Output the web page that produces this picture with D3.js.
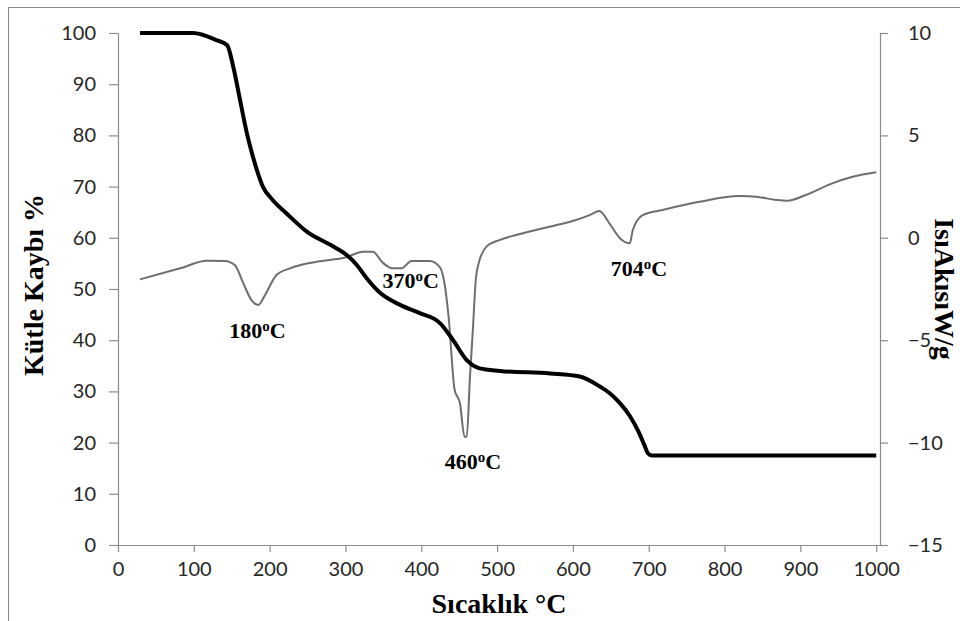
<!DOCTYPE html>
<html>
<head>
<meta charset="utf-8">
<script src="https://cdn.jsdelivr.net/npm/d3@7"></script>
<style>
  html, body { margin: 0; padding: 0; background: #fff; }
  svg { display: block; }
</style>
</head>
<body>
<svg id="chart" width="960" height="621"></svg>
<script>
// Thermogravimetric (TGA) mass-loss curve, left axis
const tgaTemp = [29, 99, 130, 144, 152, 161, 170, 178, 191, 204, 222, 249, 284, 302, 315, 328, 346, 372, 398, 425, 442, 460, 477, 504, 570, 609, 636, 649, 662, 675, 686, 694, 699, 704, 1000];
const tgaMass = [100, 100, 98.6, 97.6, 93.4, 86.9, 80.4, 75.8, 70, 67.4, 64.8, 61.2, 58.3, 56.6, 54.7, 52.1, 49.2, 46.9, 45.3, 43.3, 40, 36.1, 34.5, 34.0, 33.5, 32.9, 30.9, 29.6, 27.7, 25.2, 22.3, 19.6, 17.9, 17.5, 17.5];

// Heat flow (DSC) curve, right axis
const dscTemp = [29, 82, 117, 141, 154, 165, 176, 185, 194, 209, 227, 262, 301, 323, 336, 349, 362, 374, 387, 411, 424, 431, 436, 444, 451, 457, 460, 464, 468, 472, 476, 486, 503, 525, 569, 604, 622, 635, 648, 662, 675, 679, 692, 718, 767, 820, 842, 868, 883, 907, 942, 969, 1000];
const dscFlow = [-2.03, -1.49, -1.12, -1.13, -1.33, -2.2, -3.04, -3.28, -2.79, -1.82, -1.49, -1.17, -0.95, -0.68, -0.68, -1.21, -1.49, -1.49, -1.13, -1.13, -1.41, -2.31, -3.85, -7.43, -8.08, -9.71, -9.71, -6.94, -4.5, -2.0, -1.2, -0.43, -0.11, 0.14, 0.54, 0.87, 1.11, 1.31, 0.71, -0.02, -0.27, 0.38, 1.11, 1.36, 1.76, 2.04, 2.0, 1.85, 1.81, 2.09, 2.66, 2.98, 3.2];

// Tick values
const xTicks = [0, 100, 200, 300, 400, 500, 600, 700, 800, 900, 1000];
const yLeftTicks = [0, 10, 20, 30, 40, 50, 60, 70, 80, 90, 100];
const yRightTicks = [-15, -10, -5, 0, 5, 10];

// Peak annotations: position (temperature, heat flow) and label number
const peakTemp = [184, 386, 468, 687];
const peakFlow = [-4.9, -2.45, -11.3, -1.85];
const peakText = ["180", "370", "460", "704"];

const svg = d3.select("#chart");
const plotL = 118, plotR = 880, plotT = 33, plotB = 545;

const x = d3.scaleLinear().domain([0, 1005]).range([plotL, plotR]);
const yL = d3.scaleLinear().domain([0, 100]).range([plotB, plotT]);
const yR = d3.scaleLinear().domain([-15, 10]).range([plotB, plotT]);

const axisColor = "#8c8c8c";
const tickFont = "Lato, 'Open Sans', sans-serif";
const titleFont = "'Liberation Serif', 'Times New Roman', serif";

// outer frame
svg.append("rect")
  .attr("x", 8.5).attr("y", 7.5)
  .attr("width", 2000).attr("height", 2000)
  .attr("fill", "none").attr("stroke", "#8a8a8a").attr("stroke-width", 1);

function styleAxis(g) {
  g.select(".domain").attr("stroke", axisColor).attr("stroke-width", 1.2);
  g.selectAll(".tick line").attr("stroke", axisColor).attr("stroke-width", 1.2);
  g.selectAll(".tick text")
    .attr("fill", "#262626")
    .style("font-family", tickFont)
    .style("font-size", "20px");
}

// bottom axis
const gx = svg.append("g")
  .attr("transform", `translate(0,${plotB})`)
  .call(d3.axisBottom(x).tickValues(xTicks).tickFormat(d3.format("d"))
    .tickSize(7).tickSizeOuter(0).tickPadding(10));
styleAxis(gx);
gx.select(".domain").attr("d", `M${plotL},0.5H${plotR}`);

// left axis
const gl = svg.append("g")
  .attr("transform", `translate(${plotL},0)`)
  .call(d3.axisLeft(yL).tickValues(yLeftTicks).tickSize(9).tickSizeOuter(0).tickPadding(13));
styleAxis(gl);

// right axis
const gr = svg.append("g")
  .attr("transform", `translate(${plotR},0)`)
  .call(d3.axisRight(yR).tickValues(yRightTicks).tickFormat(d3.format("d"))
    .tickSize(8).tickSizeOuter(0).tickPadding(20));
styleAxis(gr);

// DSC curve
const dscLine = d3.line()
  .x((d, i) => x(dscTemp[i]))
  .y(d => yR(d))
  .curve(d3.curveMonotoneX);
svg.append("path")
  .datum(dscFlow)
  .attr("d", dscLine)
  .attr("fill", "none")
  .attr("stroke", "#6e6e6e")
  .attr("stroke-width", 2)
  .attr("stroke-linejoin", "round");

// TGA curve
const tgaLine = d3.line()
  .x((d, i) => x(tgaTemp[i]))
  .y(d => yL(d))
  .curve(d3.curveMonotoneX);
svg.append("path")
  .datum(tgaMass)
  .attr("d", tgaLine)
  .attr("fill", "none")
  .attr("stroke", "#000")
  .attr("stroke-width", 4)
  .attr("stroke-linejoin", "round");

// peak labels
peakText.forEach((t, i) => {
  const txt = svg.append("text")
    .attr("x", x(peakTemp[i]))
    .attr("y", yR(peakFlow[i]))
    .attr("text-anchor", "middle")
    .style("font-family", titleFont)
    .style("font-weight", "bold")
    .style("font-size", "22px")
    .attr("fill", "#000");
  txt.append("tspan").text(t);
  txt.append("tspan").text("o").style("font-size", "15px").attr("dy", "-7");
  txt.append("tspan").text("C").attr("dy", "7");
});

// axis titles
svg.append("text")
  .attr("x", (plotL + plotR) / 2)
  .attr("y", 613)
  .attr("text-anchor", "middle")
  .style("font-family", titleFont)
  .style("font-weight", "bold")
  .style("font-size", "28px")
  .text("Sıcaklık °C");

svg.append("text")
  .attr("transform", "translate(43,285) rotate(-90)")
  .attr("text-anchor", "middle")
  .style("font-family", titleFont)
  .style("font-weight", "bold")
  .style("font-size", "28px")
  .text("Kütle Kaybı %");

svg.append("text")
  .attr("transform", "translate(935,289) rotate(90)")
  .attr("text-anchor", "middle")
  .style("font-family", titleFont)
  .style("font-weight", "bold")
  .style("font-size", "28px")
  .text("IsıAkısıW/g");
</script>
</body>
</html>
